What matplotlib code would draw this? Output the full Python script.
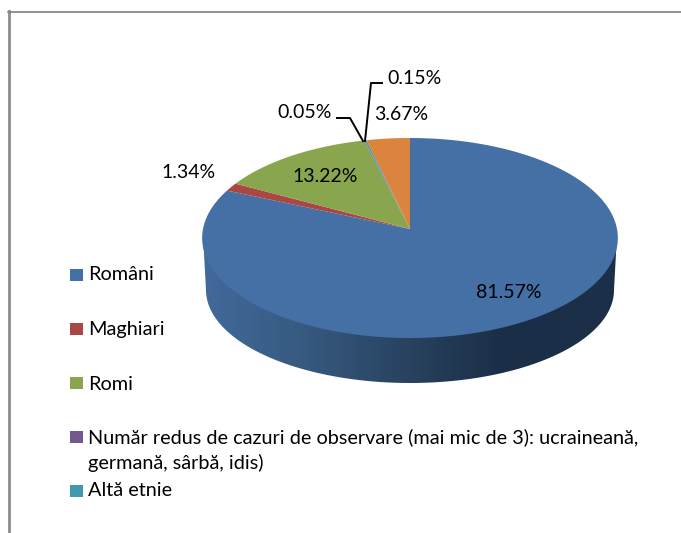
import numpy as np
import matplotlib
matplotlib.use("Agg")
import matplotlib.pyplot as plt
from matplotlib.patches import Polygon, Rectangle
from matplotlib.colors import LinearSegmentedColormap

plt.rcParams['font.family'] = ['Lato', 'DejaVu Sans']

labels = ["Români", "Maghiari", "Romi",
          "Număr redus de cazuri de observare (mai mic de 3): ucraineană,\ngermană, sârbă, idis)",
          "Altă etnie"]
values = [81.57, 1.34, 13.22, 0.05, 0.15, 3.67]
value_labels = ["81.57%", "1.34%", "13.22%", "0.05%", "0.15%", "3.67%"]
colors = ["#4570a6", "#aa4643", "#89a54e", "#71588f", "#4198af", "#db843d"]

W, H = 681, 533

fig = plt.figure(figsize=(W / 100, H / 100), dpi=100)
ax = fig.add_axes([0, 0, 1, 1])
# data coordinates are the picture's pixels
ax.set_xlim(0, W)
ax.set_ylim(H, 0)
ax.axis("off")


def project(theta):
    # perspective view of the disc: theta is clockwise from 12 o'clock
    u, v = np.sin(theta), np.cos(theta)
    d = 1 + 0.09 * v
    return 410 + 207 * u / d, 229 - 99.2 * v / d


# side wall, gradient clipped to the front half
# its top edge sits 3 px up, under the top surface, so no seam shows
t = np.linspace(0, np.pi, 200)
top_edge = np.column_stack([410 - 207 * np.cos(t), 235 + 100 * np.sin(t)])
low_edge = np.column_stack([410 - 204 * np.cos(t), 290 + 93 * np.sin(t)])[::-1]
wall = Polygon(np.vstack([top_edge, low_edge]), closed=True, facecolor="none", edgecolor="none")
ax.add_patch(wall)
wall_cmap = LinearSegmentedColormap.from_list(
    "wall", [(0, "#426a9b"), (0.25, "#36597f"), (0.5, "#28425f"), (0.72, "#1b2e47"), (1, "#1c3049")])
img = ax.imshow(np.linspace(0, 1, 256).reshape(1, -1), cmap=wall_cmap, aspect="auto",
                extent=(202, 618, 385, 230), zorder=1)
img.set_clip_path(wall)
ax.set_xlim(0, W)
ax.set_ylim(H, 0)

# top surface, clockwise from 12 o'clock
start = 0.0
total = sum(values)
for val, col in zip(values, colors):
    end = start + val / total * 2 * np.pi
    th = np.linspace(start, end, max(int(val * 4), 3))
    x, y = project(th)
    ax.add_patch(Polygon(np.vstack([[410, 229], np.column_stack([x, y])]), closed=True,
                         facecolor=col, edgecolor="none", zorder=2))
    start = end

# frame of the chart area
ax.plot([8.5, 8.5], [11, H], color="#8c8c8c", lw=2, clip_on=False, zorder=3)
ax.plot([8, W], [11.5, 11.5], color="#808080", lw=1.2, clip_on=False, zorder=3)

# data labels
lab_pos = [(509, 293), (189, 172), (325, 177), (305, 112), (414, 78), (401, 114)]
for txt, (x, y) in zip(value_labels, lab_pos):
    ax.text(x, y, txt, fontsize=14, color="black", ha="center", va="center", zorder=4)

# leader lines
ax.plot([337, 350, 363], [118, 118, 141], color="black", lw=1.4, zorder=3)
ax.plot([382, 371, 365], [83, 83, 141], color="black", lw=1.4, zorder=3)

# legend, drawn by hand because the spacing is uneven
leg_y = [275, 329, 383, 437, 491]
leg_text_y = [275, 329, 384, 450, 491]
for i, lab in enumerate(labels):
    ax.add_patch(Rectangle((70, leg_y[i] - 6), 12.5, 12, facecolor=colors[i], edgecolor="none"))
    ax.text(88, leg_text_y[i], lab, fontsize=14.3, color="black", ha="left", va="center", linespacing=1.55)

fig.savefig("out.png", dpi=100, facecolor="white")
